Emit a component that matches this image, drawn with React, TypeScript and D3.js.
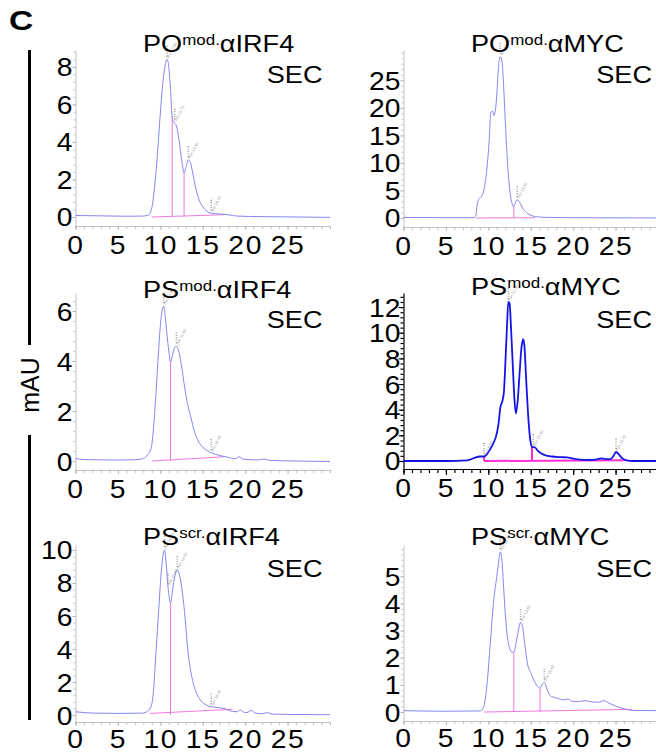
import React, { useEffect, useRef } from 'react';
import * as d3 from 'd3';

// retention time (min) vs absorbance (mAU)
const poIrf4Trace = [[0,0.08],[3,0.06],[6,0.04],[8,0.05],[8.6,0.1],[9.0,0.5],[9.3,1.5],[9.6,3.0],[9.9,4.9],[10.2,6.7],[10.5,7.9],[10.8,8.4],[11.0,8.0],[11.2,6.8],[11.4,5.3],[11.6,5.05],[11.9,4.85],[12.2,4.1],[12.5,3.1],[12.8,2.35],[13.0,2.6],[13.3,3.05],[13.5,2.95],[13.8,2.4],[14.1,1.7],[14.5,1.0],[15.0,0.55],[15.5,0.3],[16.0,0.2],[17.0,0.16],[18.0,0.12],[19.0,0.05],[22,0.02],[26,0.0],[30,-0.02]];
const poMycTrace = [[0,0.1],[5,0.05],[8.2,0.05],[8.5,0.3],[8.7,2.5],[8.9,3.5],[9.2,3.9],[9.5,5.2],[9.8,8.5],[10.1,14.0],[10.3,19.2],[10.5,19.4],[10.65,18.6],[10.9,20.5],[11.0,22.5],[11.2,27.5],[11.4,29.3],[11.6,28.5],[11.8,24.0],[12.0,17.5],[12.2,11.5],[12.5,5.5],[12.8,2.6],[13.0,2.0],[13.2,2.8],[13.4,3.3],[13.7,2.8],[14.0,1.9],[14.5,1.0],[15.0,0.5],[15.8,0.2],[17,0.1],[20,0.05],[30,0.0]];
const psIrf4Trace = [[0,0.1],[1,0.06],[5,0.04],[7,0.05],[8.0,0.1],[8.5,0.25],[8.9,0.5],[9.2,1.3],[9.45,2.5],[9.7,3.9],[9.95,5.2],[10.2,6.0],[10.4,6.2],[10.6,5.7],[10.8,5.0],[11.0,4.4],[11.2,3.95],[11.4,4.2],[11.65,4.5],[11.9,4.6],[12.2,4.35],[12.5,3.8],[12.8,3.1],[13.2,2.3],[13.6,1.75],[14.0,1.2],[14.4,0.85],[15.0,0.55],[15.5,0.42],[16.0,0.33],[17.0,0.22],[18.0,0.15],[18.8,0.09],[19.3,0.17],[19.7,0.08],[20.5,0.06],[21.5,0.04],[22.2,0.08],[23,0.02],[26,0.0],[30,-0.02]];
const psMycTrace = [[0,0],[5,0.0],[7.5,0.05],[8.0,0.15],[8.4,0.25],[9.0,0.35],[9.5,0.35],[9.8,0.5],[10.2,0.9],[10.6,1.4],[10.9,1.9],[11.2,2.9],[11.4,4.1],[11.7,4.8],[11.85,5.5],[12.0,7.5],[12.2,10.5],[12.35,12.4],[12.5,12.3],[12.7,10.0],[12.9,7.2],[13.1,4.6],[13.25,3.7],[13.45,4.6],[13.7,7.0],[13.9,8.8],[14.1,9.5],[14.25,9.0],[14.45,6.5],[14.7,3.5],[14.95,1.6],[15.15,1.1],[15.5,1.05],[15.9,0.75],[16.5,0.5],[17.5,0.35],[18.5,0.3],[19.3,0.28],[20.0,0.18],[20.8,0.1],[22.0,0.08],[22.8,0.12],[23.3,0.2],[23.8,0.15],[24.4,0.15],[24.8,0.45],[25.05,0.7],[25.4,0.5],[25.8,0.2],[26.3,0.05],[27,0.0],[30,0.0]];
const scrIrf4Trace = [[0,0.2],[2,0.12],[5,0.1],[8,0.12],[8.4,0.2],[8.9,0.5],[9.2,1.5],[9.5,3.9],[9.8,6.3],[10.1,8.6],[10.35,9.8],[10.5,10.0],[10.7,9.1],[10.9,7.8],[11.2,6.8],[11.5,7.8],[11.8,8.6],[12.0,8.8],[12.2,8.6],[12.5,7.8],[12.9,6.0],[13.25,3.9],[13.8,2.1],[14.3,1.3],[14.6,1.0],[15.4,0.62],[16.0,0.5],[16.6,0.47],[17.5,0.4],[18.5,0.22],[19.1,0.2],[19.4,0.32],[19.8,0.18],[20.2,0.15],[20.7,0.28],[21.2,0.12],[22.0,0.08],[22.6,0.15],[23.2,0.06],[25,0.04],[30,0.02]];
const scrMycTrace = [[0,0.05],[5,0.03],[9.0,0.04],[9.3,0.1],[9.6,0.4],[9.9,1.2],[10.2,2.4],[10.6,4.0],[11.0,5.0],[11.25,5.6],[11.4,5.9],[11.6,5.6],[11.8,4.6],[12.0,3.6],[12.2,2.9],[12.5,2.35],[12.8,2.2],[13.0,2.2],[13.3,2.6],[13.6,3.1],[13.8,3.3],[14.0,3.2],[14.3,2.5],[14.6,1.8],[15.0,1.45],[15.4,1.15],[15.8,0.95],[16.1,0.88],[16.4,1.05],[16.6,1.1],[16.9,0.85],[17.3,0.6],[18.0,0.52],[18.9,0.45],[19.4,0.48],[19.8,0.4],[20.5,0.38],[21.4,0.42],[22.2,0.37],[23.0,0.36],[23.6,0.42],[24.2,0.33],[25.0,0.22],[26.0,0.12],[27,0.06],[30,0.05]];

const traces = [poIrf4Trace, poMycTrace, psIrf4Trace, psMycTrace, scrIrf4Trace, scrMycTrace];

// peak-integration drop lines [time, mAU] and baselines [t0, v0, t1, v1]
const dropLines = [
  [[11.4, 5.3], [12.8, 2.35]],
  [[13.0, 2.0]],
  [[11.2, 3.95]],
  [[9.5, 0.35], [15.15, 1.1]],
  [[11.2, 6.8]],
  [[13.0, 2.2], [16.1, 0.88]],
];
const integBaselines = [
  [9.0, 0.0, 17.5, 0.12],
  [8.5, 0.0, 15.5, 0.05],
  [9.0, 0.0, 17.5, 0.17],
  [9.5, 0.0, 26.2, 0.05],
  [8.8, 0.1, 18.5, 0.35],
  [9.5, 0.0, 27.0, 0.1],
];
// peak labels from the software
const peakMarks = [
  [[10.8, 8.4], [11.7, 5.05], [13.3, 3.05], [16.0, 0.2]],
  [[11.4, 29.3], [13.4, 3.3]],
  [[10.4, 6.2], [11.9, 4.6], [16.0, 0.33]],
  [[9.5, 0.35], [12.35, 12.4], [15.3, 1.05], [25.05, 0.7]],
  [[10.5, 10.0], [10.9, 7.8], [12.0, 8.8], [16.0, 0.5]],
  [[11.4, 5.9], [13.8, 3.3], [16.6, 1.1]],
];

const titlePrefix = ['PO', 'PO', 'PS', 'PS', 'PS', 'PS'];
const titleSup = ['mod.', 'mod.', 'mod.', 'mod.', 'scr.', 'scr.'];
const titleTarget = ['\u03B1IRF4', '\u03B1MYC', '\u03B1IRF4', '\u03B1MYC', '\u03B1IRF4', '\u03B1MYC'];

const xTicks = [0, 5, 10, 15, 20, 25];
const yTicks = [
  [0, 2, 4, 6, 8],
  [0, 5, 10, 15, 20, 25],
  [0, 2, 4, 6],
  [0, 2, 4, 6, 8, 10, 12],
  [0, 2, 4, 6, 8, 10],
  [0, 1, 2, 3, 4, 5],
];
const yDomains = [
  [-0.48, 8.9],
  [-1.64, 30.5],
  [-0.36, 6.72],
  [-0.625, 13.1],
  [-0.42, 10.3],
  [-0.33, 6.15],
];

// layout
const W = 656;
const H = 754;
const colX = [[75.5, 330], [403.5, 658]];
const rowY = [[226, 50], [470, 293], [722, 545]];
const rowYRight = [[227, 50], [469, 293], [721, 545]];
const xLabelOffset = [28, 28, 26];
const titleBase = [52, 52, 298, 295, 545, 545];
const secBase = [83, 83, 328, 328, 577, 577];
const FONT = 'Liberation Sans, Arial, Helvetica, sans-serif';
const SX = 1.13; // the figure's lettering is a bit wider than Arial

const App = () => {
  const svgRef = useRef(null);

  useEffect(() => {
    const svg = d3.select(svgRef.current);
    svg.selectAll('*').remove();

    traces.forEach((trace, i) => {
      const col = i % 2;
      const row = Math.floor(i / 2);
      const dark = i === 3;
      const axisColor = dark ? '#000' : '#b4b4b4';
      const lineColor = dark ? '#1515e8' : '#8686f0';
      const pink = dark ? '#ff2fd6' : '#f07ae2';

      const yr = col === 0 ? rowY[row] : rowYRight[row];
      const x = d3.scaleLinear().domain([0, 30]).range(colX[col]);
      const y = d3.scaleLinear().domain(yDomains[i]).range(yr);

      const g = svg.append('g');

      // minor ticks x
      g.append('g')
        .attr('transform', `translate(0, ${yr[0]})`)
        .call(d3.axisBottom(x).tickValues(d3.range(0, 31, 1)).tickSize(dark ? 4 : 3).tickFormat(() => ''))
        .call((a) => a.selectAll('line, path').attr('stroke', axisColor).attr('stroke-width', dark ? 1.2 : 0.8));
      // major ticks x + labels
      const xa = g.append('g')
        .attr('transform', `translate(0, ${yr[0]})`)
        .call(d3.axisBottom(x).tickValues(xTicks).tickSize(dark ? 6 : 4).tickSizeOuter(0).tickFormat(d3.format('d')));
      xa.select('.domain').remove();
      xa.selectAll('line').attr('stroke', axisColor).attr('stroke-width', dark ? 1.2 : 0.8);
      xa.selectAll('text')
        .attr('y', 0).attr('dy', 0)
        .attr('transform', `translate(0, ${xLabelOffset[row]}) scale(${SX}, 1)`)
        .attr('fill', '#000')
        .style('font-family', FONT).style('font-size', '25px').style('letter-spacing', '1.5px');

      // y axis
      const minorY = d3.range(yTicks[i][0], yDomains[i][1], (yTicks[i][1] - yTicks[i][0]) / 5);
      g.append('g')
        .attr('transform', `translate(${colX[col][0]}, 0)`)
        .call(d3.axisLeft(y).tickValues(minorY).tickSize(dark ? 3 : 2).tickSizeOuter(0).tickFormat(() => ''))
        .call((a) => a.selectAll('line, path').attr('stroke', axisColor).attr('stroke-width', dark ? 1.2 : 0.8));
      const ya = g.append('g')
        .attr('transform', `translate(${colX[col][0]}, 0)`)
        .call(d3.axisLeft(y).tickValues(yTicks[i]).tickSize(dark ? 5 : 3).tickFormat(d3.format('d')));
      ya.select('.domain').remove();
      ya.selectAll('line').attr('stroke', axisColor);
      ya.selectAll('text')
        .attr('x', 0).attr('dy', '0.36em')
        .attr('transform', `translate(-3, 0) scale(${SX}, 1)`)
        .attr('fill', '#000')
        .style('font-family', FONT).style('font-size', '25px');

      // integration baseline and drop lines
      const b = integBaselines[i];
      g.append('line')
        .attr('x1', x(b[0])).attr('y1', y(b[1]))
        .attr('x2', x(b[2])).attr('y2', y(b[3]))
        .attr('stroke', pink).attr('stroke-width', dark ? 2 : 1);
      dropLines[i].forEach((d) => {
        g.append('line')
          .attr('x1', x(d[0])).attr('x2', x(d[0]))
          .attr('y1', y(0)).attr('y2', y(d[1]))
          .attr('stroke', pink).attr('stroke-width', dark ? 2 : 1);
      });

      // trace
      const line = d3.line().x((d) => x(d[0])).y((d) => y(d[1])).curve(d3.curveMonotoneX);
      g.append('path')
        .datum(trace)
        .attr('d', line)
        .attr('fill', 'none')
        .attr('stroke', lineColor)
        .attr('stroke-width', dark ? 1.8 : 1);

      // peak annotations
      peakMarks[i].forEach((p) => {
        const px = x(p[0]);
        const py = y(p[1]);
        g.append('line')
          .attr('x1', px).attr('x2', px)
          .attr('y1', py - 3).attr('y2', py - 15)
          .attr('stroke', '#888').attr('stroke-width', 1.5).attr('stroke-dasharray', '0.8,1.6');
        g.append('text')
          .attr('transform', `translate(${px + 2}, ${py - 1}) rotate(-62)`)
          .attr('fill', '#999')
          .style('font-family', FONT).style('font-size', '4px')
          .text(`Ret ${p[0].toFixed(2)}`);
      });

      // title
      const t = g.append('text')
        .attr('transform', `translate(${colX[col][0] + 67.5}, ${titleBase[i]}) scale(${SX}, 1)`)
        .style('font-family', FONT).style('font-size', '24px');
      t.append('tspan').text(titlePrefix[i]);
      t.append('tspan').attr('dy', -7).style('font-size', '15px').text(titleSup[i]);
      t.append('tspan').attr('dy', 7).text(titleTarget[i]);

      g.append('text')
        .attr('transform', `translate(${colX[col][0] + (col === 0 ? 247 : 248.5)}, ${secBase[i]}) scale(${SX}, 1)`)
        .attr('text-anchor', 'end')
        .style('font-family', FONT).style('font-size', '24px')
        .text('SEC');
    });

    // panel letter and shared y label
    svg.append('text')
      .attr('transform', `translate(9, 30) scale(1.2, 1)`)
      .style('font-family', FONT).style('font-size', '28px').style('font-weight', 'bold')
      .text('C');
    svg.append('line').attr('x1', 29.5).attr('x2', 29.5).attr('y1', 50).attr('y2', 345)
      .attr('stroke', '#000').attr('stroke-width', 3);
    svg.append('line').attr('x1', 29.5).attr('x2', 29.5).attr('y1', 435).attr('y2', 720)
      .attr('stroke', '#000').attr('stroke-width', 3);
    svg.append('text')
      .attr('transform', 'translate(39, 385) rotate(-90)')
      .attr('text-anchor', 'middle')
      .style('font-family', FONT).style('font-size', '25px')
      .text('mAU');
  }, []);

  return (
    <svg ref={svgRef} width={W} height={H}
      style={{ position: 'absolute', left: 0, top: 0, background: '#fff' }} />
  );
};

export default App;
